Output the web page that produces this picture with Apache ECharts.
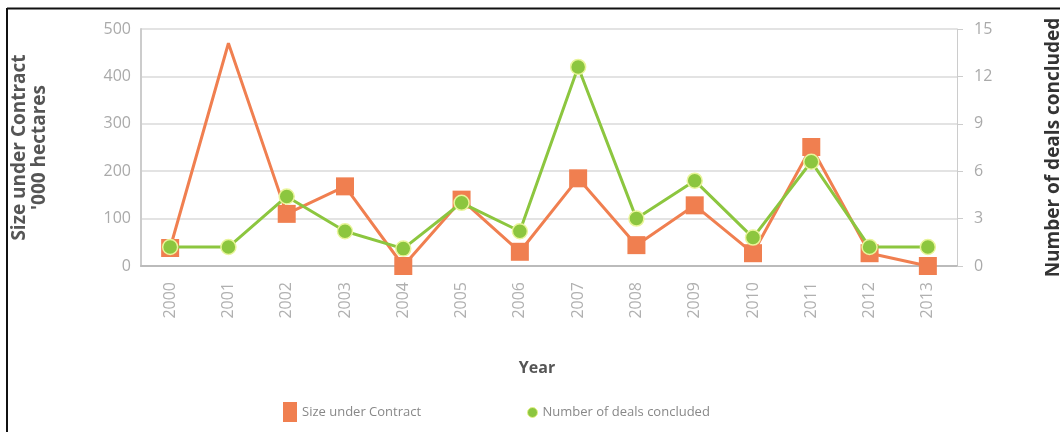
<!DOCTYPE html>
<html>
<head>
<meta charset="utf-8">
<script src="https://cdn.jsdelivr.net/npm/echarts@6/dist/echarts.min.js"></script>
<style>
html,body{margin:0;padding:0;background:#fff;}
#chart{width:1060px;height:432px;}
</style>
</head>
<body>
<div id="chart"></div>
<script>
const years = ['2000','2001','2002','2003','2004','2005','2006','2007','2008','2009','2010','2011','2012','2013'];
const sizeUnderContract = [38, 470, 110, 168, 0, 140, 30, 185, 44, 128, 27, 251, 27, 0];
const dealsConcluded = [1.2, 1.2, 4.4, 2.2, 1.1, 4.0, 2.2, 12.6, 3.0, 5.4, 1.8, 6.6, 1.2, 1.2];
const leftTicks = [0, 100, 200, 300, 400, 500];
const rightTicks = [0, 3, 6, 9, 12, 15];

const FONT = '"Open Sans", "Noto Sans", sans-serif';
const ORANGE = '#F07F50';
const GREEN = '#8CC63F';

const chart = echarts.init(document.getElementById('chart'), null, {renderer: 'canvas'});
chart.setOption({
  backgroundColor: '#fff',
  animation: false,
  textStyle: {fontFamily: FONT},
  grid: {left: 141, right: 103, top: 29, bottom: 166, containLabel: false, outerBoundsMode: 'none'},
  graphic: [
    {type: 'line', shape: {x1: 7, y1: 8.5, x2: 1060, y2: 8.5}, style: {stroke: '#111', lineWidth: 2}},
    {type: 'line', shape: {x1: 7, y1: 8, x2: 7, y2: 432}, style: {stroke: '#111', lineWidth: 2}}
  ],
  legend: [
    {
      left: 278, top: 397, itemWidth: 14, itemHeight: 20, itemGap: 10,
      icon: 'rect',
      data: [{name: 'Size under Contract', itemStyle: {color: ORANGE, borderWidth: 0}}],
      textStyle: {color: '#888', fontSize: 13, fontFamily: FONT}
    },
    {
      left: 522, top: 401, itemWidth: 10, itemHeight: 12,
      icon: 'circle',
      data: [{name: 'Number of deals concluded', itemStyle: {color: GREEN, borderColor: '#E6F28A', borderWidth: 1}}],
      textStyle: {color: '#888', fontSize: 13, fontFamily: FONT}
    }
  ],
  xAxis: {
    type: 'category',
    data: years,
    boundaryGap: true,
    name: 'Year',
    nameLocation: 'middle',
    nameGap: 94,
    nameTextStyle: {color: '#555', fontSize: 16, fontWeight: 'bold', fontFamily: FONT, padding: [0, 24, 0, 0]},
    axisLine: {show: true, lineStyle: {color: '#bbb', width: 2}},
    axisTick: {show: false},
    axisLabel: {rotate: 90, color: '#b0b0b0', fontSize: 16, margin: 16, fontFamily: FONT}
  },
  yAxis: [
    {
      type: 'value', min: 0, max: 500, interval: 100,
      position: 'left',
      name: "Size under Contract\n'000 hectares",
      nameLocation: 'middle', nameRotate: 90, nameGap: 91,
      nameTextStyle: {color: '#555', fontSize: 19, fontWeight: 'bold', lineHeight: 20, align: 'center', fontFamily: FONT},
      axisLine: {show: true, lineStyle: {color: '#ccc', width: 2}},
      axisTick: {show: false},
      axisLabel: {color: '#aaa', fontSize: 16, margin: 10, fontFamily: FONT,
        formatter: v => leftTicks.includes(v) ? String(v) : ''},
      splitLine: {show: true, lineStyle: {color: '#e3e3e3', width: 2}}
    },
    {
      type: 'value', min: 0, max: 15, interval: 3,
      position: 'right',
      name: 'Number of deals concluded',
      nameLocation: 'middle', nameRotate: 90, nameGap: 87,
      nameTextStyle: {color: '#333', fontSize: 19, fontWeight: 'bold', fontFamily: FONT},
      axisLine: {show: true, lineStyle: {color: '#ccc', width: 1}},
      axisTick: {show: true, length: 6, lineStyle: {color: '#ccc'}},
      axisLabel: {color: '#aaa', fontSize: 16, margin: 17, fontFamily: FONT,
        formatter: v => rightTicks.includes(v) ? String(v) : ''},
      splitLine: {show: false}
    }
  ],
  series: [
    {
      name: 'Size under Contract',
      type: 'line',
      yAxisIndex: 0,
      data: sizeUnderContract.map((v, i) => i === 1 ? {value: v, symbol: 'none'} : v),
      symbol: 'rect',
      symbolSize: 18,
      lineStyle: {color: ORANGE, width: 3},
      itemStyle: {color: ORANGE, borderWidth: 0},
      z: 2
    },
    {
      name: 'Number of deals concluded',
      type: 'line',
      yAxisIndex: 1,
      data: dealsConcluded,
      symbol: 'circle',
      symbolSize: 15,
      lineStyle: {color: GREEN, width: 3},
      itemStyle: {color: GREEN, borderColor: '#E9F59A', borderWidth: 1.5},
      z: 3
    }
  ]
});
</script>
</body>
</html>
